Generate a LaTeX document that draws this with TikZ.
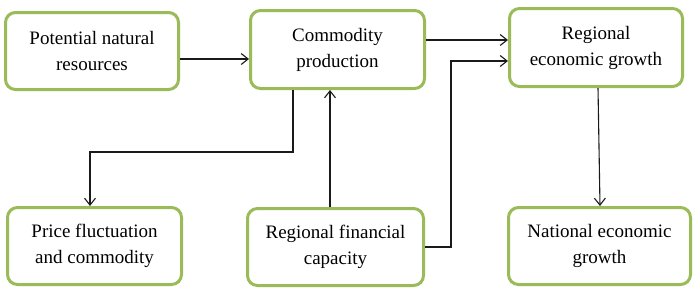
\documentclass[tikz,border=0pt]{standalone}
\usepackage{fontspec}
\setmainfont{Liberation Serif}
\usetikzlibrary{arrows.meta}
\definecolor{boxgreen}{HTML}{9BBB59}
\definecolor{linegray}{HTML}{1A1A1A}
\begin{document}
\begin{tikzpicture}[x=1pt,y=-1pt,
  box/.style={draw=boxgreen, line width=3pt, rounded corners=10pt, fill=white,
    align=center, inner sep=0pt, minimum height=77pt,
    font=\fontsize{19}{26}\selectfont},
  arr/.style={draw=linegray, line width=1.1pt, -{Straight Barb[length=7pt,width=11pt]}}]
\useasboundingbox (0,0) rectangle (695,293);
\node[box, minimum width=173pt] (b1) at (92,51) {Potential natural\\resources};
\node[box, minimum width=174pt, minimum height=78pt] (b2) at (337.5,49.5) {Commodity\\production};
\node[box, minimum width=173pt, minimum height=78pt] (b3) at (596,47.5) {Regional\\economic growth};
\node[box, minimum width=174pt] (b4) at (94.5,246) {Price fluctuation\\and commodity};
\node[box, minimum width=176pt] (b5) at (335.5,247) {Regional financial\\capacity};
\node[box, minimum width=182pt] (b6) at (599.5,246) {National economic\\growth};
\coordinate (k1) at (451,247);
\coordinate (k2) at (451,61);
\coordinate (k3) at (293,152);
\coordinate (k4) at (90,152);
\draw[arr] (b1.east |- 0,59) -- (b2.west |- 0,59);
\draw[arr] (b2.east |- 0,40) -- (b3.west |- 0,40);
\draw[arr] (b5.east) -- (k1) -- (k2) -- (b3.west |- k2);
\draw[arr] (b2.south -| k3) -- (k3) -- (k4) -- (b4.north -| k4);
\draw[arr] (b5.north -| 330,0) -- (b2.south -| 330,0);
\draw[arr] (b3.south -| 598,0) -- (b6.north -| 600,0);
\end{tikzpicture}
\end{document}
